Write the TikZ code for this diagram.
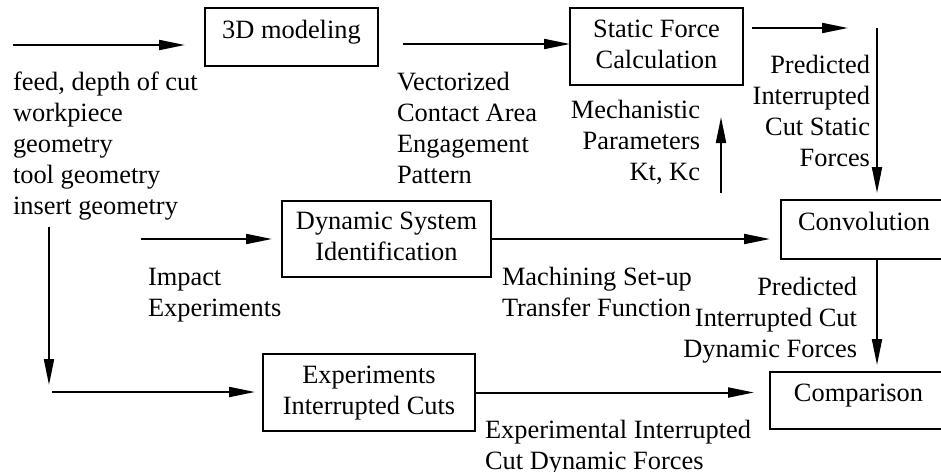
\documentclass[tikz,border=0pt]{standalone}
\usepackage{fontspec}
\setmainfont{Liberation Serif}
\usetikzlibrary{arrows.meta}
\begin{document}
\begin{tikzpicture}[x=1pt, y=-1pt,
  font=\fontsize{26.4}{31}\selectfont,
  box/.style={draw, line width=2pt, inner sep=0pt, outer sep=0pt, align=center},
  onebox/.style={box, text height=20pt, text depth=18pt},
  lbl/.style={inner sep=0pt, outer sep=0pt},
  arr/.style={line width=2pt, -{Triangle[length=26pt,width=10pt]}}]
\clip (0,0) rectangle (941,471);
\useasboundingbox (0,0) rectangle (941,471);

% process blocks
\node[onebox, minimum width=173pt, minimum height=58pt] (model) at (291.5,37) {3D modeling};
\node[box, minimum width=173pt, minimum height=77pt] (static) at (656.5,46.5) {\strut Static Force\\\strut Calculation};
\node[box, minimum width=209pt, minimum height=76pt] (dyn) at (386.5,239) {\strut Dynamic System\\\strut Identification};
\node[box, minimum width=212pt, minimum height=77pt] (expcut) at (369,392.5) {\strut Experiments\\\strut Interrupted Cuts};
\node[onebox, minimum width=166pt, minimum height=59pt] (conv) at (864,229.5) {Convolution};
\node[onebox, minimum width=177pt, minimum height=57pt] (comp) at (858.5,400.5) {Comparison};

% signal labels
\node[lbl, anchor=north west, align=left] (inputs) at (13,68.8) {\strut feed, depth of cut\\workpiece\\geometry\\tool geometry\\insert geometry};
\node[lbl, anchor=north west, align=left] (geomout) at (397,68.8) {\strut Vectorized\\Contact Area\\Engagement\\Pattern};
\node[lbl, anchor=north east, align=right] (mech) at (700,96.8) {\strut Mechanistic\\Parameters\\Kt, Kc};
\node[lbl, anchor=north east, align=right] (statout) at (870,51.8) {\strut Predicted\\Interrupted\\Cut Static\\Forces};
\node[lbl, anchor=north west, align=left] (impact) at (148,263.8) {\strut Impact\\Experiments};
\node[lbl, anchor=north west, align=left] (tf) at (502,263.8) {\strut Machining Set-up\\Transfer Function};
\node[lbl, anchor=north east, align=right] (dynout) at (857,273.8) {\strut Predicted\\Interrupted Cut\\Dynamic Forces};
\node[lbl, anchor=north west, align=left] (expout) at (485,416.8) {\strut Experimental Interrupted\\Cut Dynamic Forces};

% free connector ends
\coordinate (inA) at (13,45);
\coordinate (mA) at (403,44);
\coordinate (sA) at (752,28);
\coordinate (sB) at (848,28);
\coordinate (sC) at (877,28);
\coordinate (kA) at (721,193);
\coordinate (kB) at (721,117);
\coordinate (dA) at (141,239);
\coordinate (vA) at (49,227);
\coordinate (vB) at (49,385);
\coordinate (eA) at (52,392);

% connectors
\draw[arr, shorten >=20pt] (inA) -- (model.west |- inA);
\draw[arr] (mA) -- (static.west |- mA);
\draw[arr] (sA) -- (sB);
\draw[arr, shorten >=7pt] (sC) -- (conv.north -| sC);
\draw[arr] (kA) -- (kB);
\draw[arr, shorten >=10pt] (dA) -- (dyn.west |- dA);
\draw[arr, shorten >=11pt] (dyn.east) -- (conv.west |- dyn.east);
\draw[arr, shorten >=7pt] (conv.south -| sC) -- (comp.north -| sC);
\draw[arr] (vA) -- (vB);
\draw[arr, shorten >=8pt] (eA) -- (expcut.west |- eA);
\draw[arr, shorten >=16pt] (expcut.east) -- (comp.west |- expcut.east);
\end{tikzpicture}
\end{document}
